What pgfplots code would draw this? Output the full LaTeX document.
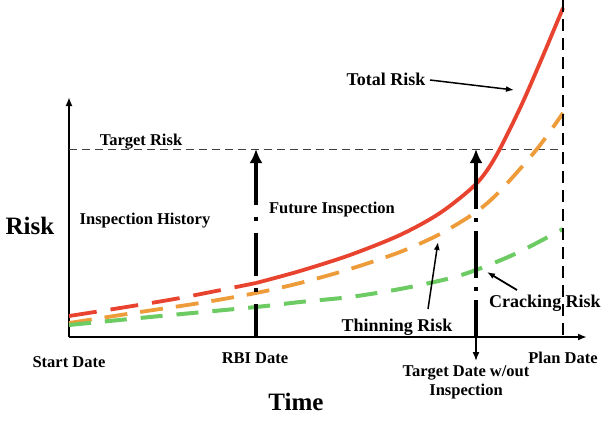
\documentclass[border=0pt]{standalone}
\usepackage{pgfplots}
\pgfplotsset{compat=1.18}
\usepackage{fontspec}
\setmainfont{Liberation Serif}
\usetikzlibrary{arrows.meta}

\definecolor{riskred}{HTML}{E8432F}
\definecolor{riskorange}{HTML}{EE9B3A}
\definecolor{riskgreen}{HTML}{6DCB63}

\newcommand{\fs}[1]{\bfseries\fontsize{#1}{#1}\selectfont}

\begin{document}
\begin{tikzpicture}
\begin{axis}[
  x=1bp, y=1bp,
  xmin=69, xmax=587, ymin=94, ymax=334,
  axis x line=bottom, axis y line=left,
  axis line style={line width=2bp, -{Latex[length=9bp,width=7bp]}},
  xtick=\empty, ytick=\empty,
  clip=false,
]
% target risk level
\addplot[line width=1bp, black!75, dash pattern=on 8bp off 5bp] coordinates {(69,282) (563,282)};

% total risk: history (dashed) and forecast (solid)
\addplot[riskred, line width=3.8bp, smooth, dash pattern=on 28bp off 14bp] coordinates {
  (69,115) (120,123) (180,133) (256,148)
};
\addplot[riskred, line width=3.8bp, smooth] coordinates {
  (256,148) (300,160) (350,176) (400,196) (440,218) (476,247)
  (496,275) (521,325) (542,373) (563,423)
};
% thinning risk
\addplot[riskorange, line width=3.8bp, smooth, dash pattern=on 23bp off 13bp] coordinates {
  (69,108) (140,119) (200,128) (256,138) (300,148) (350,162)
  (400,179) (440,197) (476,219) (500,240) (537,282) (563,318)
};
% cracking risk
\addplot[riskgreen, line width=4bp, smooth, dash pattern=on 22bp off 14bp] coordinates {
  (69,106) (150,114) (256,124) (300,129) (350,134) (400,142)
  (447,152) (476,161) (517,178) (563,202)
};

% plan date
\addplot[line width=2.2bp, dash pattern=on 12bp off 7bp] coordinates {(563,431) (563,94)};
% RBI date / future inspection
\addplot[line width=4bp, dash pattern=on 43bp off 12bp on 4bp off 12bp,
  {Latex[length=14bp,width=13bp]}-] coordinates {(256,282) (256,94)};
% target date without inspection
\addplot[line width=4bp, dash pattern=on 47bp off 9bp on 4bp off 9bp,
  {Latex[length=14bp,width=13bp]}-] coordinates {(476,282) (476,94)};
\addplot[line width=1.6bp, -{Latex[length=9bp,width=7bp]}] coordinates {(476,94) (476,70)};

% annotation arrows
\draw[line width=1.5bp, -{Latex[length=8bp,width=6bp]}] (430,351) -- (514,341);
\draw[line width=1.5bp, -{Latex[length=8bp,width=6bp]}] (428,122) -- (438,189);
\draw[line width=1.8bp, -{Latex[length=8bp,width=6bp]}] (517,141) -- (487,159);

% labels
\node[font=\fs{25bp}] at (30,205) {Risk};
\node[font=\fs{25bp}] at (296,29) {Time};
\node[font=\fs{16.5bp}] at (141,289) {Target Risk};
\node[font=\fs{16.5bp}] at (145,210) {Inspection History};
\node[font=\fs{16.5bp}] at (332,221) {Future Inspection};
\node[font=\fs{18bp}] at (386,352) {Total Risk};
\node[font=\fs{18bp}] at (397,104) {Thinning Risk};
\node[font=\fs{18bp}] at (545,128) {Cracking Risk};
\node[font=\fs{16.5bp}] at (69,69) {Start Date};
\node[font=\fs{16.5bp}] at (255,73) {RBI Date};
\node[font=\fs{16.5bp}] at (563,73) {Plan Date};
\node[font=\fs{16.5bp}] at (466,58) {Target Date w/out};
\node[font=\fs{16.5bp}] at (466,39) {Inspection};

\coordinate (bbll) at (0,0);
\coordinate (bbur) at (611,431);
\end{axis}
\pgfresetboundingbox
\useasboundingbox (bbll) rectangle (bbur);
\end{tikzpicture}
\end{document}
